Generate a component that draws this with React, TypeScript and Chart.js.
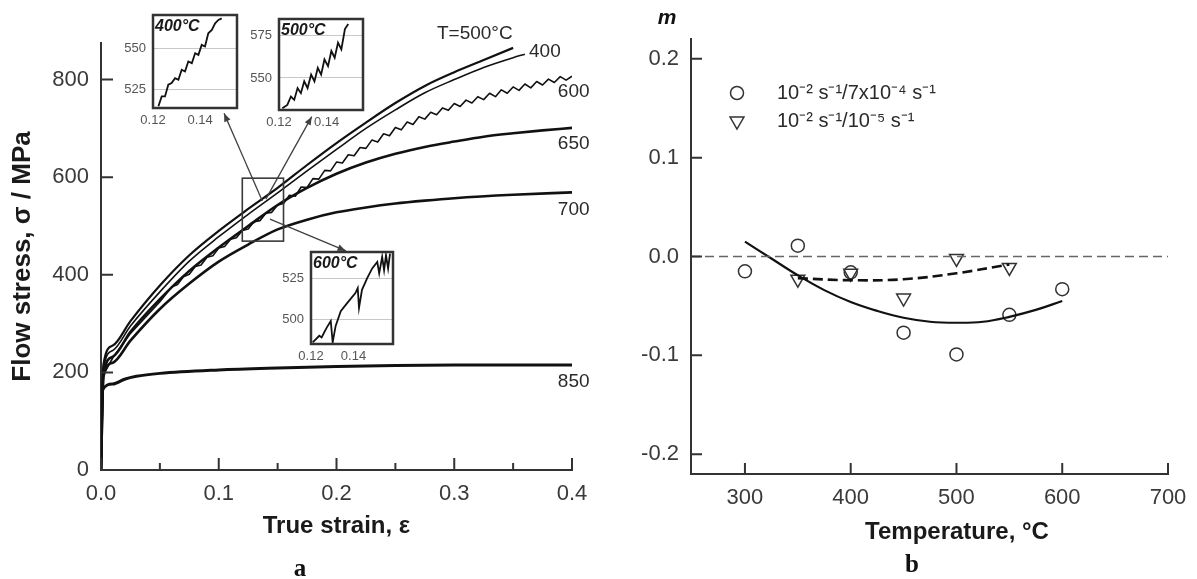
import { useEffect, useRef } from 'react';
import { Chart, registerables } from 'chart.js';

Chart.register(...registerables);

const SANS = '"Liberation Sans", Arial, Helvetica, sans-serif';
const SERIF = '"Liberation Serif", "Times New Roman", serif';
const INK = '#1a1a1a';
const AXIS = '#333333';
const TICK_INK = '#3a3a3a';

// ---------------- Panel a: flow stress vs true strain ----------------
const strain500 = [0, 0.002, 0.01, 0.025, 0.05, 0.075, 0.1, 0.125, 0.15, 0.175, 0.2, 0.225, 0.25, 0.275, 0.3, 0.325, 0.35];
const stress500 = [0, 215, 255, 305, 378, 440, 490, 535, 578, 625, 670, 712, 752, 787, 815, 840, 865];

const strain400 = [0, 0.002, 0.01, 0.025, 0.05, 0.075, 0.1, 0.125, 0.15, 0.175, 0.2, 0.225, 0.25, 0.275, 0.3, 0.325, 0.35, 0.36];
const stress400 = [0, 205, 245, 295, 365, 428, 478, 524, 568, 613, 657, 700, 738, 773, 800, 825, 845, 852];

const strain600 = [0, 0.002, 0.01, 0.025, 0.05, 0.06, 0.065, 0.07, 0.075, 0.08, 0.085, 0.09, 0.095, 0.1, 0.105, 0.11, 0.115, 0.12, 0.125, 0.13, 0.135, 0.14, 0.145, 0.15, 0.155, 0.16, 0.165, 0.17, 0.175, 0.18, 0.185, 0.19, 0.195, 0.2, 0.205, 0.21, 0.215, 0.22, 0.225, 0.23, 0.235, 0.24, 0.245, 0.25, 0.255, 0.26, 0.265, 0.27, 0.275, 0.28, 0.285, 0.29, 0.295, 0.3, 0.305, 0.31, 0.315, 0.32, 0.325, 0.33, 0.335, 0.34, 0.345, 0.35, 0.355, 0.36, 0.365, 0.37, 0.375, 0.38, 0.385, 0.39, 0.395, 0.4];
const stress600 = [0, 195, 230, 280, 345, 375, 380, 396, 401, 417, 420, 436, 439, 455, 458, 473, 476, 491, 494, 509, 511, 526, 528, 543, 546, 563, 561, 580, 579, 597, 596, 614, 613, 631, 629, 646, 644, 661, 659, 676, 672, 689, 685, 702, 697, 713, 708, 724, 719, 733, 728, 742, 737, 751, 745, 758, 752, 765, 759, 772, 765, 779, 772, 785, 778, 791, 783, 796, 789, 801, 794, 806, 799, 807];

const strain650 = [0, 0.002, 0.01, 0.025, 0.05, 0.075, 0.1, 0.125, 0.15, 0.175, 0.2, 0.225, 0.25, 0.275, 0.3, 0.325, 0.35, 0.375, 0.4];
const stress650 = [0, 195, 232, 283, 350, 408, 456, 500, 543, 578, 607, 630, 648, 662, 673, 683, 690, 696, 701];

const strain700 = [0, 0.002, 0.01, 0.025, 0.05, 0.075, 0.1, 0.125, 0.15, 0.175, 0.2, 0.225, 0.25, 0.275, 0.3, 0.35, 0.4];
const stress700 = [0, 190, 220, 265, 330, 382, 427, 462, 493, 513, 528, 538, 546, 552, 557, 564, 569];

const strain850 = [0, 0.001, 0.01, 0.02, 0.03, 0.05, 0.1, 0.15, 0.2, 0.25, 0.3, 0.35, 0.4];
const stress850 = [0, 163, 176, 186, 192, 198, 205, 209, 212, 214, 215, 215, 215];

const strainTicks = [0, 0.1, 0.2, 0.3, 0.4];
const strainMinorTicks = [0.05, 0.15, 0.25, 0.35];
const stressTicks = [0, 200, 400, 600, 800];

// curve labels (data coordinates)
const curveLabelText = ['T=500°C', '400', '600', '650', '700', '850'];
const curveLabelStrain = [0.2853, 0.3635, 0.388, 0.388, 0.388, 0.388];
const curveLabelStress = [894, 858, 776, 669, 533, 180];

// zoom box and arrows (data coordinates)
const zoomBoxStrain = [0.12, 0.155];
const zoomBoxStress = [469, 598];
const arrowFromStrain = [0.137, 0.14, 0.1435];
const arrowFromStress = [551, 555, 514];
const arrowToStrain = [0.1045, 0.179, 0.208];
const arrowToStress = [731, 724, 449];

// insets
const inset400Strain = [0.1223, 0.1237, 0.1251, 0.1265, 0.1279, 0.1294, 0.1308, 0.1322, 0.1336, 0.135, 0.1365, 0.1379, 0.1393, 0.1407, 0.1421, 0.1435, 0.145, 0.1464, 0.1478, 0.1492];
const inset400Stress = [515, 521, 521, 528, 529, 532, 531, 537, 536, 542, 541, 547, 546, 552, 551, 559, 561, 565, 567, 568];
const inset500Strain = [0.1214, 0.1235, 0.125, 0.1264, 0.1278, 0.1292, 0.1306, 0.132, 0.1335, 0.1349, 0.1363, 0.1377, 0.1391, 0.1406, 0.142, 0.1434, 0.1448, 0.1462, 0.1477, 0.1491];
const inset500Stress = [532, 534, 539, 537, 544, 541, 548, 544, 552, 548, 556, 552, 561, 557, 566, 562, 571, 567, 579, 582];
const inset600Strain = [0.1208, 0.1239, 0.125, 0.1274, 0.1293, 0.1302, 0.1316, 0.134, 0.1371, 0.1409, 0.142, 0.1426, 0.144, 0.1464, 0.1488, 0.1512, 0.1521, 0.1535, 0.1544, 0.1553, 0.1563, 0.1572];
const inset600Stress = [486, 490, 489, 495, 499, 486, 496, 505, 510, 516, 519, 507, 518, 525, 531, 535, 528, 538, 530, 539, 531, 540];
const insetStrainTicks = [0.12, 0.14];
const inset400StressTicks = [525, 550];
const inset500StressTicks = [550, 575];
const inset600StressTicks = [500, 525];

// ---------------- Panel b: m vs temperature ----------------
const tempCircle = [300, 350, 400, 450, 500, 550, 600];
const mCircle = [-0.015, 0.011, -0.016, -0.077, -0.099, -0.059, -0.033];
const tempTriangle = [350, 400, 450, 500, 550];
const mTriangle = [-0.023, -0.017, -0.042, -0.002, -0.011];
const tempFitSolid = [300, 325, 350, 375, 400, 425, 450, 475, 500, 525, 550, 575, 600];
const mFitSolid = [0.015, -0.002, -0.019, -0.034, -0.046, -0.055, -0.062, -0.066, -0.067, -0.066, -0.061, -0.054, -0.045];
const tempFitDashed = [350, 400, 450, 500, 550];
const mFitDashed = [-0.022, -0.024, -0.023, -0.017, -0.008];
const tempZero = [249, 700];
const mZero = [0, 0];
const tempTicks = [300, 400, 500, 600, 700];
const mTicks = [-0.2, -0.1, 0, 0.1, 0.2];
const legendText = ['10⁻² s⁻¹/7x10⁻⁴ s⁻¹', '10⁻² s⁻¹/10⁻⁵ s⁻¹'];

// ---------------- helpers ----------------
const xy = (xs: number[], ys: number[]) => xs.map((x, i) => ({ x, y: ys[i] }));

const setTicks = (values: number[]) => (scale: any) => {
  scale.ticks = values.map((v) => ({ value: v }));
};

const fixBox = (size: number) => (scale: any) => {
  if (scale.isHorizontal()) scale.height = size;
  else scale.width = size;
  scale.paddingLeft = 0;
  scale.paddingRight = 0;
  scale.paddingTop = 0;
  scale.paddingBottom = 0;
};

function innerTicks(cfg: { xMajor: number[]; xMinor?: number[]; yMajor: number[]; len: number; minorLen?: number; color: string; width: number }) {
  return {
    id: 'innerTicks',
    afterDatasetsDraw(chart: any) {
      const { ctx, chartArea: a, scales } = chart;
      const sx = scales.x;
      const sy = scales.y;
      ctx.save();
      ctx.strokeStyle = cfg.color;
      ctx.lineWidth = cfg.width;
      ctx.beginPath();
      for (const v of cfg.xMajor) {
        const p = sx.getPixelForValue(v);
        ctx.moveTo(p, a.bottom);
        ctx.lineTo(p, a.bottom - cfg.len);
      }
      for (const v of cfg.xMinor || []) {
        const p = sx.getPixelForValue(v);
        ctx.moveTo(p, a.bottom);
        ctx.lineTo(p, a.bottom - (cfg.minorLen || 6));
      }
      for (const v of cfg.yMajor) {
        const p = sy.getPixelForValue(v);
        ctx.moveTo(a.left, p);
        ctx.lineTo(a.left + cfg.len, p);
      }
      ctx.stroke();
      ctx.restore();
    },
  };
}

function drawArrow(ctx: CanvasRenderingContext2D, x1: number, y1: number, x2: number, y2: number, size: number) {
  const ang = Math.atan2(y2 - y1, x2 - x1);
  ctx.beginPath();
  ctx.moveTo(x1, y1);
  ctx.lineTo(x2, y2);
  ctx.stroke();
  ctx.beginPath();
  ctx.moveTo(x2, y2);
  ctx.lineTo(x2 - size * Math.cos(ang - 0.38), y2 - size * Math.sin(ang - 0.38));
  ctx.lineTo(x2 - size * Math.cos(ang + 0.38), y2 - size * Math.sin(ang + 0.38));
  ctx.closePath();
  ctx.fill();
}

const annotationsA = {
  id: 'annotationsA',
  afterDatasetsDraw(chart: any) {
    const { ctx, scales } = chart;
    const sx = scales.x;
    const sy = scales.y;
    ctx.save();
    // zoom box
    const bx0 = sx.getPixelForValue(zoomBoxStrain[0]);
    const bx1 = sx.getPixelForValue(zoomBoxStrain[1]);
    const by0 = sy.getPixelForValue(zoomBoxStress[0]);
    const by1 = sy.getPixelForValue(zoomBoxStress[1]);
    ctx.strokeStyle = '#3a3a3a';
    ctx.lineWidth = 1.6;
    ctx.strokeRect(bx0, by1, bx1 - bx0, by0 - by1);
    // arrows
    ctx.strokeStyle = '#404040';
    ctx.fillStyle = '#404040';
    ctx.lineWidth = 1.3;
    for (let i = 0; i < arrowFromStrain.length; i++) {
      drawArrow(
        ctx,
        sx.getPixelForValue(arrowFromStrain[i]),
        sy.getPixelForValue(arrowFromStress[i]),
        sx.getPixelForValue(arrowToStrain[i]),
        sy.getPixelForValue(arrowToStress[i]),
        9
      );
    }
    // curve labels
    ctx.fillStyle = '#2a2a2a';
    ctx.font = `19px ${SANS}`;
    ctx.textAlign = 'left';
    ctx.textBaseline = 'middle';
    for (let i = 0; i < curveLabelText.length; i++) {
      ctx.fillText(curveLabelText[i], sx.getPixelForValue(curveLabelStrain[i]), sy.getPixelForValue(curveLabelStress[i]));
    }
    // panel letter
    ctx.fillStyle = '#111';
    ctx.font = `bold 25px ${SERIF}`;
    ctx.textAlign = 'center';
    ctx.fillText('a', 300, 570);
    ctx.restore();
  },
};

const annotationsB = {
  id: 'annotationsB',
  afterDatasetsDraw(chart: any) {
    const { ctx, chartArea: a } = chart;
    ctx.save();
    // axis label m
    ctx.fillStyle = '#111';
    ctx.font = `italic bold 21px ${SANS}`;
    ctx.textAlign = 'center';
    ctx.textBaseline = 'middle';
    ctx.fillText('m', a.left - 24, 18);
    // legend
    const lx = a.left + 46;
    const rows = [a.top + 54, a.top + 82];
    ctx.strokeStyle = '#333';
    ctx.lineWidth = 1.5;
    ctx.beginPath();
    ctx.arc(lx, rows[0], 6.5, 0, Math.PI * 2);
    ctx.stroke();
    const r = 8;
    ctx.beginPath();
    ctx.moveTo(lx, rows[1] + r);
    ctx.lineTo(lx - r * Math.sin(Math.PI / 3), rows[1] - r / 2);
    ctx.lineTo(lx + r * Math.sin(Math.PI / 3), rows[1] - r / 2);
    ctx.closePath();
    ctx.stroke();
    ctx.fillStyle = '#2a2a2a';
    ctx.font = `20px ${SANS}`;
    ctx.textAlign = 'left';
    ctx.fillText(legendText[0], lx + 40, rows[0]);
    ctx.fillText(legendText[1], lx + 40, rows[1]);
    // x title
    ctx.fillStyle = INK;
    ctx.font = `bold 24px ${SANS}`;
    ctx.textAlign = 'center';
    ctx.fillText('Temperature, °C', 357, 532);
    // panel letter
    ctx.fillStyle = '#111';
    ctx.font = `bold 25px ${SERIF}`;
    ctx.fillText('b', 312, 566);
    ctx.restore();
  },
};

function insetFrame(title: string) {
  return {
    id: 'insetFrame',
    beforeDraw(chart: any) {
      const { ctx, chartArea: a } = chart;
      ctx.save();
      ctx.fillStyle = '#ffffff';
      ctx.fillRect(a.left, a.top, a.right - a.left, a.bottom - a.top);
      ctx.restore();
    },
    afterDraw(chart: any) {
      const { ctx, chartArea: a } = chart;
      ctx.save();
      ctx.strokeStyle = '#333';
      ctx.lineWidth = 2.5;
      ctx.strokeRect(a.left, a.top, a.right - a.left, a.bottom - a.top);
      ctx.fillStyle = '#1a1a1a';
      ctx.font = `italic bold 16px ${SANS}`;
      ctx.textAlign = 'left';
      ctx.textBaseline = 'middle';
      ctx.fillText(title, a.left + 2, a.top + 12);
      ctx.restore();
    },
  };
}

function insetConfig(xs: number[], ys: number[], xr: number[], yr: number[], yTicks: number[], title: string): any {
  return {
    type: 'line',
    data: { datasets: [{ data: xy(xs, ys), borderColor: '#111', borderWidth: 1.8, pointRadius: 0, tension: 0 }] },
    options: {
      animation: false,
      responsive: false,
      devicePixelRatio: 1,
      layout: { padding: { left: 0, top: 12, right: 6, bottom: 0 } },
      plugins: { legend: { display: false }, tooltip: { enabled: false } },
      scales: {
        x: {
          type: 'linear', min: xr[0], max: xr[1],
          afterBuildTicks: setTicks(insetStrainTicks), afterFit: fixBox(26),
          grid: { display: false, drawTicks: false }, border: { display: false },
          ticks: { padding: 5, autoSkip: false, maxRotation: 0, color: '#555', font: { family: SANS, size: 13 }, callback: (v: any) => Number(v).toFixed(2) },
        },
        y: {
          type: 'linear', min: yr[0], max: yr[1],
          afterBuildTicks: setTicks(yTicks), afterFit: fixBox(34),
          grid: { display: true, drawTicks: false, color: '#c8c8c8', lineWidth: 1 }, border: { display: false },
          ticks: { padding: 7, autoSkip: false, color: '#555', font: { family: SANS, size: 13 }, callback: (v: any) => String(v) },
        },
      },
    },
    plugins: [insetFrame(title)],
  };
}

function configA(): any {
  const line = (xs: number[], ys: number[], w: number, smooth = true) => ({
    data: xy(xs, ys), borderColor: '#111', borderWidth: w, pointRadius: 0,
    cubicInterpolationMode: smooth ? 'monotone' : 'default', tension: smooth ? 0.4 : 0,
    borderJoinStyle: 'round',
  });
  return {
    type: 'line',
    data: {
      datasets: [
        line(strain850, stress850, 3),
        line(strain700, stress700, 2.6),
        line(strain650, stress650, 2.6),
        line(strain600, stress600, 1.6, false),
        line(strain400, stress400, 1.6),
        line(strain500, stress500, 2.2),
      ],
    },
    options: {
      animation: false,
      responsive: false,
      devicePixelRatio: 1,
      layout: { padding: { left: 0, top: 43, right: 68, bottom: 0 } },
      plugins: { legend: { display: false }, tooltip: { enabled: false } },
      scales: {
        x: {
          type: 'linear', min: 0, max: 0.4,
          afterBuildTicks: setTicks(strainTicks), afterFit: fixBox(109),
          grid: { display: false, drawTicks: false }, border: { display: true, color: AXIS, width: 2 },
          ticks: { padding: 11, autoSkip: false, maxRotation: 0, color: TICK_INK, font: { family: SANS, size: 22 }, callback: (v: any) => Number(v).toFixed(1) },
          title: { display: true, text: 'True strain, ε', color: INK, font: { family: SANS, size: 24, weight: 'bold' }, padding: { top: 0, bottom: 38 } },
        },
        y: {
          type: 'linear', min: 0, max: 875,
          afterBuildTicks: setTicks(stressTicks), afterFit: fixBox(101),
          grid: { display: false, drawTicks: false }, border: { display: true, color: AXIS, width: 2 },
          ticks: { padding: 12, autoSkip: false, color: TICK_INK, font: { family: SANS, size: 22 }, callback: (v: any) => String(v) },
          title: { display: true, text: 'Flow stress, σ / MPa', color: INK, font: { family: SANS, size: 26, weight: 'bold' }, padding: { top: 7, bottom: 0 } },
        },
      },
    },
    plugins: [innerTicks({ xMajor: strainTicks, xMinor: strainMinorTicks, yMajor: stressTicks, len: 12, minorLen: 7, color: AXIS, width: 2 }), annotationsA],
  };
}

function configB(): any {
  return {
    type: 'line',
    data: {
      datasets: [
        { data: xy(tempZero, mZero), borderColor: '#666', borderWidth: 1.5, borderDash: [9, 5], pointRadius: 0 },
        { data: xy(tempFitSolid, mFitSolid), borderColor: '#111', borderWidth: 2.2, pointRadius: 0, tension: 0.4 },
        { data: xy(tempFitDashed, mFitDashed), borderColor: '#111', borderWidth: 2.6, borderDash: [10, 5], pointRadius: 0, tension: 0.4 },
        {
          data: xy(tempCircle, mCircle), showLine: false, pointStyle: 'circle', pointRadius: 6.5,
          pointBorderWidth: 1.5, pointBorderColor: '#333', pointBackgroundColor: 'rgba(0,0,0,0)',
        },
        {
          data: xy(tempTriangle, mTriangle), showLine: false, pointStyle: 'triangle', pointRotation: 180, pointRadius: 8,
          pointBorderWidth: 1.5, pointBorderColor: '#333', pointBackgroundColor: 'rgba(0,0,0,0)',
        },
      ],
    },
    options: {
      animation: false,
      responsive: false,
      devicePixelRatio: 1,
      layout: { padding: { left: 0, top: 39, right: 72, bottom: 0 } },
      plugins: { legend: { display: false }, tooltip: { enabled: false } },
      scales: {
        x: {
          type: 'linear', min: 249, max: 700,
          afterBuildTicks: setTicks(tempTicks), afterFit: fixBox(105),
          grid: { display: false, drawTicks: false }, border: { display: true, color: AXIS, width: 2 },
          ticks: { padding: 11, autoSkip: false, maxRotation: 0, color: TICK_INK, font: { family: SANS, size: 22 }, callback: (v: any) => String(v) },
        },
        y: {
          type: 'linear', min: -0.22, max: 0.22,
          afterBuildTicks: setTicks(mTicks), afterFit: fixBox(91),
          grid: { display: false, drawTicks: false }, border: { display: true, color: AXIS, width: 2 },
          ticks: { padding: 12, autoSkip: false, color: TICK_INK, font: { family: SANS, size: 22 }, callback: (v: any) => Number(v).toFixed(1) },
        },
      },
    },
    plugins: [innerTicks({ xMajor: tempTicks, yMajor: mTicks, len: 11, color: AXIS, width: 2 }), annotationsB],
  };
}

// inset placement (page pixels of each inset's plot frame)
const insetLayout = [
  { left: 153, top: 15, w: 84, h: 93 },
  { left: 279, top: 19, w: 84, h: 91 },
  { left: 311, top: 252, w: 82, h: 92 },
];

export default function App() {
  const aRef = useRef<HTMLCanvasElement>(null);
  const bRef = useRef<HTMLCanvasElement>(null);
  const i1 = useRef<HTMLCanvasElement>(null);
  const i2 = useRef<HTMLCanvasElement>(null);
  const i3 = useRef<HTMLCanvasElement>(null);

  useEffect(() => {
    Chart.defaults.font.family = SANS;
    const charts = [
      new Chart(aRef.current as HTMLCanvasElement, configA()),
      new Chart(bRef.current as HTMLCanvasElement, configB()),
      new Chart(i1.current as HTMLCanvasElement, insetConfig(inset400Strain, inset400Stress, [0.12, 0.1557], [514, 570], inset400StressTicks, '400°C')),
      new Chart(i2.current as HTMLCanvasElement, insetConfig(inset500Strain, inset500Stress, [0.12, 0.1553], [531, 585], inset500StressTicks, '500°C')),
      new Chart(i3.current as HTMLCanvasElement, insetConfig(inset600Strain, inset600Stress, [0.12, 0.1586], [485, 541], inset600StressTicks, '600°C')),
    ];
    return () => charts.forEach((c) => c.destroy());
  }, []);

  const insetRefs = [i1, i2, i3];

  return (
    <div style={{ position: 'fixed', left: 0, top: 0, width: 1197, height: 579, overflow: 'hidden', background: '#ffffff' }}>
      <canvas ref={aRef} width={640} height={579} style={{ position: 'absolute', left: 0, top: 0, width: 640, height: 579 }} />
      <canvas ref={bRef} width={640} height={579} style={{ position: 'absolute', left: 600, top: 0, width: 640, height: 579 }} />
      {insetLayout.map((b, k) => {
        const w = 34 + b.w + 6;
        const h = 12 + b.h + 26;
        return (
          <canvas
            key={k}
            ref={insetRefs[k]}
            width={w}
            height={h}
            style={{ position: 'absolute', left: b.left - 34, top: b.top - 12, width: w, height: h }}
          />
        );
      })}
    </div>
  );
}
